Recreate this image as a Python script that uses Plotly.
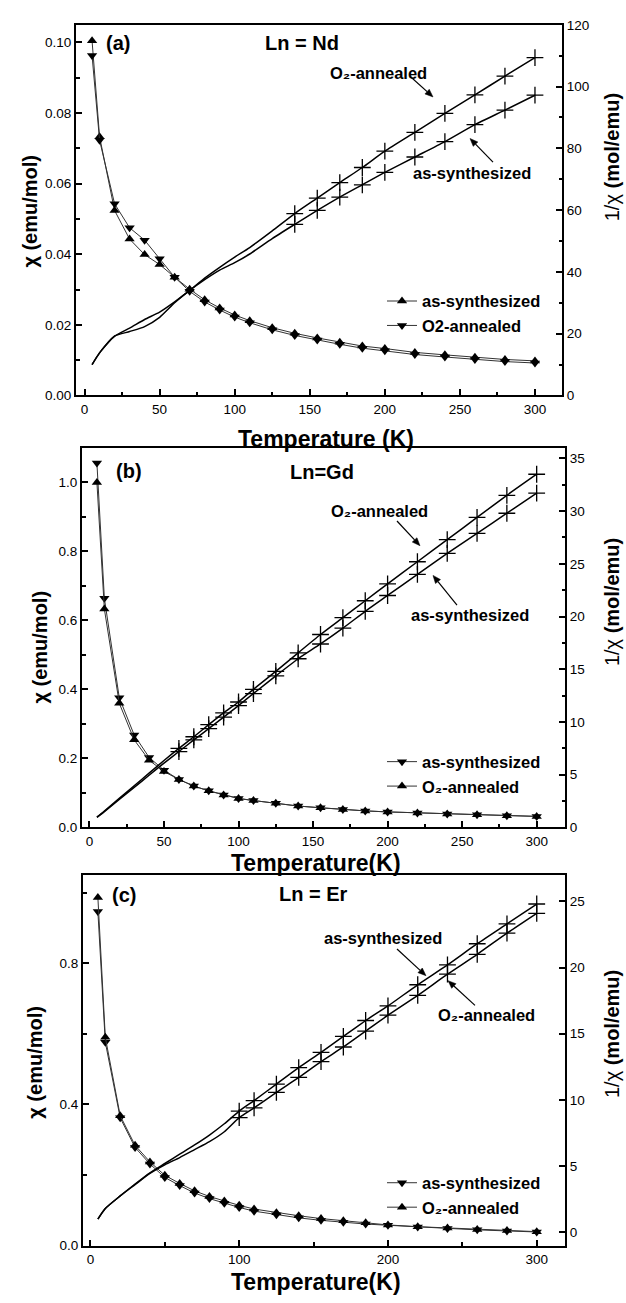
import math
import plotly.graph_objects as go

W, H = 626, 1303
FONT = "Arial, Liberation Sans, sans-serif"

# ---------------- data ----------------
T = [5, 10, 20, 30, 40, 50, 60, 70, 80, 90, 100, 110, 125, 140, 155, 170, 185, 200, 220, 240, 260, 280, 300]

# (a) Ln = Nd
chi_a_as = [0.1005, 0.0733, 0.0524, 0.0443, 0.0399, 0.0371, 0.0335, 0.0301, 0.0271, 0.0248, 0.0228, 0.0212,
            0.0192, 0.0176, 0.0163, 0.0151, 0.0140, 0.0133, 0.0122, 0.0115, 0.0108, 0.0102, 0.0098]
chi_a_o2 = [0.0963, 0.0723, 0.0543, 0.0475, 0.0440, 0.0387, 0.0335, 0.0295, 0.0265, 0.0242, 0.0222, 0.0206,
            0.0186, 0.0170, 0.0157, 0.0145, 0.0134, 0.0127, 0.0116, 0.0109, 0.0102, 0.0096, 0.0092]
inv_a_o2 = [10.0, 13.8, 19.2, 21.8, 24.6, 27.0, 30.3, 34.0, 38.0, 41.5, 44.8, 47.9, 53.3, 58.9, 63.9, 68.9,
            73.8, 79.1, 85.2, 91.3, 97.3, 103.4, 109.4]
inv_a_as = [10.0, 13.8, 19.2, 20.7, 22.3, 25.3, 30.0, 34.0, 37.5, 40.6, 43.0, 45.8, 50.8, 55.4, 59.9, 64.2,
            68.2, 72.2, 77.2, 82.2, 87.7, 92.4, 97.2]

# (b) Ln = Gd
chi_b_as = [1.056, 0.664, 0.376, 0.268, 0.203, 0.166, 0.139, 0.120, 0.106, 0.094, 0.084, 0.078, 0.070, 0.062,
            0.057, 0.052, 0.048, 0.045, 0.042, 0.039, 0.037, 0.034, 0.032]
chi_b_o2 = [1.000, 0.633, 0.360, 0.254, 0.195, 0.162, 0.139, 0.120, 0.106, 0.094, 0.084, 0.078, 0.070, 0.062,
            0.057, 0.052, 0.048, 0.045, 0.042, 0.039, 0.037, 0.034, 0.032]
inv_b_o2 = [0.98, 1.55, 2.75, 3.95, 5.15, 6.35, 7.5, 8.6, 9.75, 10.87, 11.9, 13.1, 14.8, 16.56, 18.3, 19.9,
            21.5, 23.1, 25.2, 27.3, 29.4, 31.5, 33.5]
inv_b_as = [0.95, 1.5, 2.65, 3.8, 4.95, 6.1, 7.2, 8.3, 9.37, 10.47, 11.56, 12.7, 14.37, 16.0, 17.4, 18.9,
            20.5, 22.0, 24.0, 26.0, 27.9, 29.8, 31.7]

# (c) Ln = Er
chi_c_o2 = [0.986, 0.590, 0.368, 0.284, 0.237, 0.199, 0.176, 0.155, 0.139, 0.126, 0.114, 0.1035, 0.093, 0.0845,
            0.0765, 0.070, 0.065, 0.0585, 0.0535, 0.0495, 0.0455, 0.0425, 0.0395]
chi_c_as = [0.946, 0.576, 0.362, 0.278, 0.231, 0.193, 0.170, 0.149, 0.133, 0.120, 0.108, 0.0975, 0.087, 0.0785,
            0.0715, 0.066, 0.061, 0.0575, 0.0525, 0.0485, 0.0445, 0.0415, 0.0385]
inv_c_as = [1.0, 1.8, 2.75, 3.65, 4.5, 5.2, 5.9, 6.6, 7.35, 8.2, 9.16, 9.95, 11.2, 12.44, 13.6, 14.8, 16.0,
            17.1, 18.7, 20.2, 21.8, 23.3, 24.8]
inv_c_o2 = [1.0, 1.8, 2.75, 3.6, 4.45, 5.1, 5.65, 6.25, 6.85, 7.6, 8.66, 9.4, 10.57, 11.7, 12.9, 14.0, 15.2,
            16.4, 17.9, 19.5, 21.0, 22.6, 24.1]

# temperature from which the 1/chi curves carry "+" symbols
mark_from = {"a": 140, "b": 60, "c": 100}

O2_SUB = "O\u2082-annealed"


def px(x):
    return x / W


def py(y):
    return 1 - y / H


fig = go.Figure()

CHI_LINE = dict(color="#333333", width=1)


def chi_trace(y, name, symbol, xa, ya, legend):
    return go.Scatter(x=T, y=y, name=name, mode="lines+markers", xaxis=xa, yaxis=ya, legend=legend,
                      line=CHI_LINE, marker=dict(symbol=symbol, size=9, color="black"))


def inv_traces(y, xa, ya, tmin):
    tx = [t for t in T if t >= tmin]
    vy = [v for t, v in zip(T, y) if t >= tmin]
    return [
        go.Scatter(x=T, y=y, mode="lines", xaxis=xa, yaxis=ya, showlegend=False,
                   line=dict(color="black", width=1.5, shape="spline", smoothing=0.6), hoverinfo="skip"),
        go.Scatter(x=tx, y=vy, mode="markers", xaxis=xa, yaxis=ya, showlegend=False,
                   marker=dict(symbol="cross-thin", size=12, line=dict(color="black", width=1.3))),
    ]


# panel (a)
fig.add_trace(chi_trace(chi_a_as, "as-synthesized", "triangle-up", "x", "y", "legend"))
fig.add_trace(chi_trace(chi_a_o2, "O2-annealed", "triangle-down", "x", "y", "legend"))
for tr in inv_traces(inv_a_o2, "x", "y2", mark_from["a"]) + inv_traces(inv_a_as, "x", "y2", mark_from["a"]):
    fig.add_trace(tr)

# panel (b)
fig.add_trace(chi_trace(chi_b_as, "as-synthesized", "triangle-down", "x2", "y3", "legend2"))
fig.add_trace(chi_trace(chi_b_o2, O2_SUB, "triangle-up", "x2", "y3", "legend2"))
for tr in inv_traces(inv_b_o2, "x2", "y4", mark_from["b"]) + inv_traces(inv_b_as, "x2", "y4", mark_from["b"]):
    fig.add_trace(tr)

# panel (c)
fig.add_trace(chi_trace(chi_c_as, "as-synthesized", "triangle-down", "x3", "y5", "legend3"))
fig.add_trace(chi_trace(chi_c_o2, O2_SUB, "triangle-up", "x3", "y5", "legend3"))
for tr in inv_traces(inv_c_as, "x3", "y6", mark_from["c"]) + inv_traces(inv_c_o2, "x3", "y6", mark_from["c"]):
    fig.add_trace(tr)

TICKFONT = dict(family=FONT, size=13.5, color="black")


def xax(domain, anchor, rng, dtick, minor):
    return dict(domain=domain, anchor=anchor, range=rng, dtick=dtick, tick0=0, ticks="inside", ticklen=6,
                tickwidth=1.5, tickcolor="black", showline=True, linewidth=2, linecolor="black", mirror=True,
                showgrid=False, zeroline=False, tickfont=TICKFONT,
                minor=dict(ticks="inside", ticklen=3.5, dtick=minor, tick0=0, tickcolor="black", showgrid=False))


def yax(domain, anchor, rng, dtick, minor, fmt, side="left", overlaying=None):
    d = dict(domain=domain, anchor=anchor, range=rng, dtick=dtick, tick0=0, ticks="inside", ticklen=6,
             tickwidth=1.5, tickcolor="black", showline=True, linewidth=2, linecolor="black",
             showgrid=False, zeroline=False, tickfont=TICKFONT, tickformat=fmt, side=side)
    if minor:
        d["minor"] = dict(ticks="inside", ticklen=3.5, dtick=minor, tick0=0, tickcolor="black", showgrid=False)
    if overlaying:
        d["overlaying"] = overlaying
    return d


xa_dom = [px(76), px(562)]
xb_dom = [px(82), px(565)]
xc_dom = [px(83), px(565)]
ya_dom = [py(393), py(18)]
yb_dom = [py(830), py(446)]
yc_dom = [py(1253), py(878)]

LEGFONT = dict(family=FONT, size=16.5, color="black", weight="bold")


def legend(x, ytop):
    return dict(x=px(x), y=py(ytop), xanchor="left", yanchor="top", bgcolor="rgba(0,0,0,0)",
                font=LEGFONT, tracegroupgap=0, itemwidth=30, borderwidth=0)


fig.update_layout(
    width=W, height=H, margin=dict(l=0, r=0, t=0, b=0),
    paper_bgcolor="white", plot_bgcolor="rgba(0,0,0,0)",
    xaxis=xax(xa_dom, "y", [-5.7, 318], 50, 25),
    yaxis=yax(ya_dom, "x", [0, 0.105], 0.02, 0.01, ".2f"),
    yaxis2=yax(ya_dom, "x", [0, 120], 20, 10, "d", side="right", overlaying="y"),
    xaxis2=xax(xb_dom, "y3", [-5, 319], 50, 25),
    yaxis3=yax(yb_dom, "x2", [0, 1.1], 0.2, 0.1, ".1f"),
    yaxis4=yax(yb_dom, "x2", [0, 36], 5, 2.5, "d", side="right", overlaying="y3"),
    xaxis3=xax(xc_dom, "y5", [-5, 319], 100, 50),
    yaxis5=yax(yc_dom, "x3", [0, 1.05], 0.4, 0.2, ".1f"),
    yaxis6=yax(yc_dom, "x3", [-1, 27], 5, None, "d", side="right", overlaying="y5"),
    legend=legend(382, 280),
    legend2=legend(382, 746),
    legend3=legend(382, 1172),
    showlegend=True,
)

ann = []
shapes = []


def text(x, y, s, size, bold=True, angle=0):
    ann.append(dict(x=px(x), y=py(y), xref="paper", yref="paper", text=(f"<b>{s}</b>" if bold else s),
                    showarrow=False, xanchor="center", yanchor="middle", textangle=angle,
                    font=dict(family=FONT, size=size, color="black")))


def arrow(tx, ty, hx, hy, L=8.0, hw=3.2):
    dx, dy = hx - tx, hy - ty
    n = math.hypot(dx, dy)
    ux, uy = dx / n, dy / n
    bx, by = hx - ux * L, hy - uy * L
    shapes.append(dict(type="line", xref="paper", yref="paper", x0=px(tx), y0=py(ty), x1=px(bx), y1=py(by),
                       line=dict(color="black", width=1.2)))
    p1 = (bx - uy * hw, by + ux * hw)
    p2 = (bx + uy * hw, by - ux * hw)
    path = (f"M{px(hx)},{py(hy)} L{px(p1[0])},{py(p1[1])} L{px(p2[0])},{py(p2[1])} Z")
    shapes.append(dict(type="path", xref="paper", yref="paper", path=path, fillcolor="black",
                       line=dict(color="black", width=0.5)))


# axis titles
for yc_left, yc_right, x_left in [(207, 152, 30), (648, 602, 40), (1068, 1039, 35)]:
    text(x_left, yc_left, "χ (emu/mol)", 20, angle=-90)
    ann.append(dict(x=px(612), y=py(yc_right), xref="paper", yref="paper",
                    text="1/χ <b>(mol/emu)</b>", showarrow=False, xanchor="center", yanchor="middle",
                    textangle=-90, font=dict(family=FONT, size=20, color="black")))
text(326, 437, "Temperature (K)", 23)
text(316, 866, "Temperature(K)", 23)
text(316, 1290, "Temperature(K)", 23)

# panel labels
text(117.5, 36, "(a)", 20)
text(302, 36, "Ln = Nd", 20)
text(128.5, 469, "(b)", 20)
text(321.5, 470, "Ln=Gd", 20)
text(123.5, 898, "(c)", 20)
text(313.5, 897, "Ln = Er", 20)

# curve labels with arrows
text(378, 67, O2_SUB, 16.5)
arrow(410, 70, 433, 91)
text(471.5, 168, "as-synthesized", 16.5)
arrow(493, 157, 470, 133)

text(379, 510, O2_SUB, 16.5)
arrow(397, 520, 420, 545)
text(470, 615, "as-synthesized", 16.5)
arrow(457, 605, 433, 575)

text(382.5, 942, "as-synthesized", 16.5)
arrow(397, 953, 426, 980)
text(486, 1020, O2_SUB, 16.5)
arrow(475, 1010, 448, 985)

fig.update_layout(annotations=ann, shapes=shapes)

fig.write_html("out.html")
